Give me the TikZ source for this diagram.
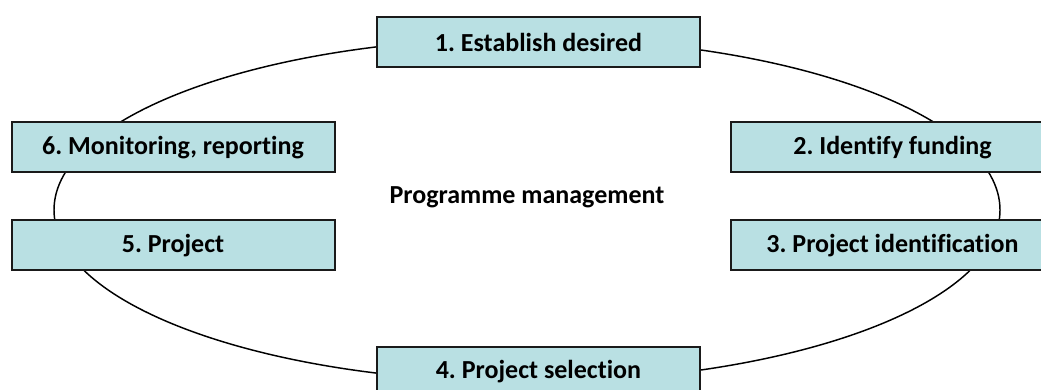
\documentclass[tikz,border=0pt]{standalone}
\usepackage{fontspec}
\setmainfont{Carlito}[Ligatures=CommonOff]
\usepackage{xcolor}
\usepackage{tikz}
\definecolor{stepfill}{HTML}{B9E0E3}
\definecolor{stepline}{HTML}{1A1A1A}
\frenchspacing

\begin{document}
\begin{tikzpicture}[x=0.75pt, y=0.75pt,
  stepbox/.style={draw=stepline, line width=1.5pt, fill=stepfill, inner sep=0pt,
                  minimum width=242.25pt, minimum height=37.5pt,
                  font=\fontsize{19.5}{23}\selectfont\bfseries},
  hub/.style={font=\fontsize{19.5}{23}\selectfont\bfseries},
  cycle/.style={draw=black, line width=1.1pt}
]
\useasboundingbox (0,0) rectangle (1041,389);

% the loop
\coordinate (centre) at (527,179);
\draw[cycle] (centre) ellipse [x radius=354.75pt, y radius=129pt];

% steps round the loop
\node[stepbox] (desired)   at (538.5,347)   {1. Establish desired};
\node[stepbox] (funding)   at (892.5,241.5) {2. Identify funding};
\node[stepbox] (ident)     at (892.5,143.5) {3. Project identification};
\node[stepbox] (select)    at (538.5,17)    {4. Project selection};
\node[stepbox] (project)   at (173,143.5)   {5. Project};
\node[stepbox] (monitor)   at (173,241.5)   {6. Monitoring, reporting};

% middle label
\node[hub] (prog) at (527,192) {Programme management};
\end{tikzpicture}
\end{document}
